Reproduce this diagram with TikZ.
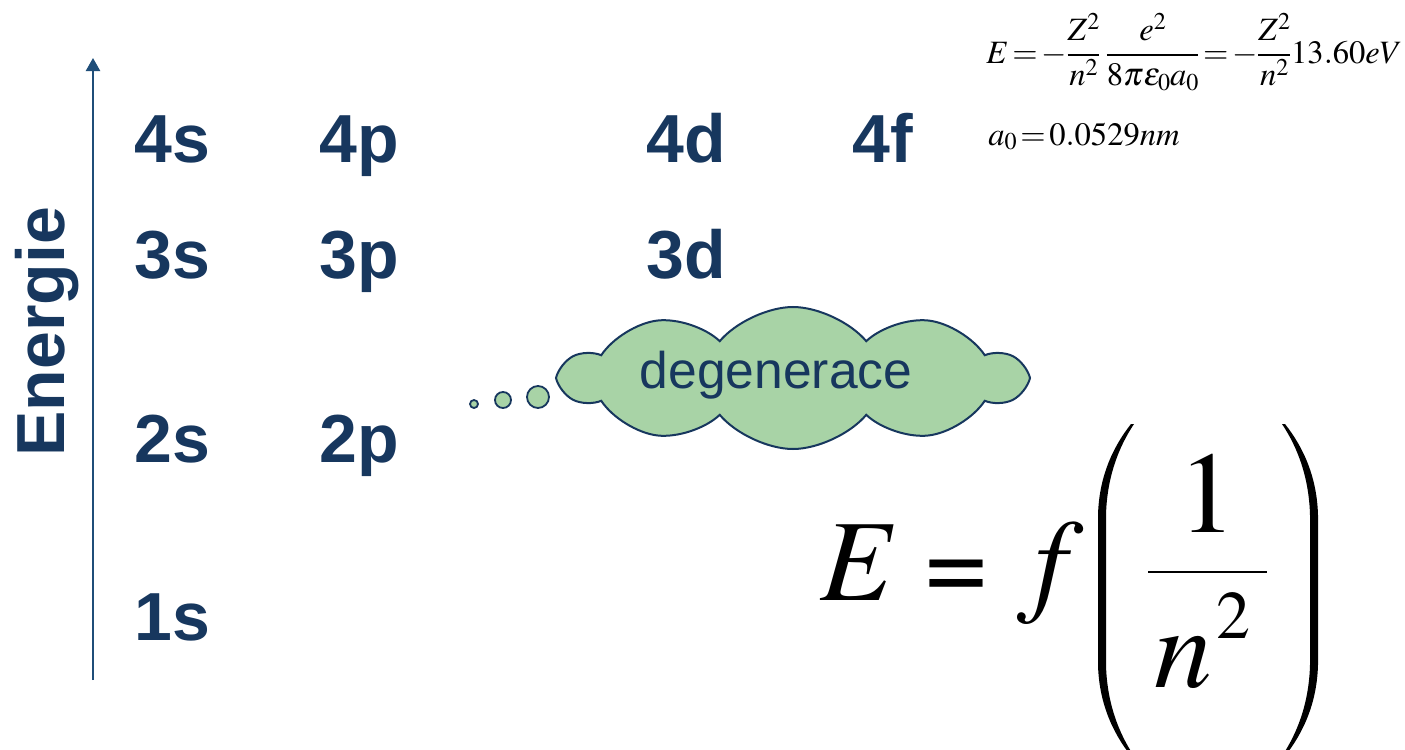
\documentclass[tikz,border=0pt]{standalone}
\usepackage{amsmath}
\usepackage{mathptmx}
\usepackage[no-math]{fontspec}
\newfontfamily\lsans{Liberation Sans}
\newfontfamily\lserif{Liberation Serif}
\usetikzlibrary{arrows.meta,shapes.symbols}
\definecolor{orbblue}{RGB}{23,55,94}
\definecolor{arrowblue}{RGB}{31,78,121}
\definecolor{cloudgreen}{RGB}{168,211,166}
\newcommand{\tightmath}{\thickmuskip=2mu\relax\nulldelimiterspace=0.5pt\relax\scriptspace=0pt\relax}
\begin{document}
\begin{tikzpicture}[x=0.5pt,y=-0.5pt,
  orb/.style={font=\lsans\bfseries\fontsize{34}{40}\selectfont, text=orbblue, anchor=base west, inner sep=0pt},
  bubble/.style={circle, draw=orbblue, fill=cloudgreen, line width=0.9pt, inner sep=0pt},
  smallmath/.style={font=\fontsize{16.3}{20}\selectfont, anchor=base west, inner sep=0pt},
  bigmath/.style={font=\fontsize{58}{62}\selectfont, inner sep=0pt},
  paren/.style={fill=black, draw=none}]
\useasboundingbox (0,0) rectangle (1405,750);
\clip (0,0) rectangle (1405,750);

% energy axis
\coordinate (abot) at (93,680);
\coordinate (atop) at (93,58);
\draw[-{Triangle[width=7pt,length=6.5pt]}, arrowblue, line width=1.25pt] (abot) -- (atop);
\node[rotate=90, anchor=base west, inner sep=0pt, text=orbblue,
      font=\lsans\bfseries\fontsize{34}{38}\selectfont] (energie) at (64,457) {Energie};

% orbitals
\node[orb] (s4) at (134,162) {4s};
\node[orb] (p4) at (319,162) {4p};
\node[orb] (d4) at (646,162) {4d};
\node[orb] (f4) at (852,162) {4f};
\node[orb] (s3) at (134,278) {3s};
\node[orb] (p3) at (319,278) {3p};
\node[orb] (d3) at (646,278) {3d};
\node[orb] (s2) at (134,462) {2s};
\node[orb] (p2) at (319,462) {2p};
\node[orb] (s1) at (134,640) {1s};

% thought cloud
\node[cloud, cloud puffs=10, cloud puff arc=100, cloud ignores aspect,
      minimum width=231pt, minimum height=71pt, draw=orbblue, fill=cloudgreen,
      line width=1pt, inner sep=0pt] (cl) at (793,378) {};
\node[font=\lsans\fontsize{25.8}{30}\selectfont, text=orbblue, anchor=base, inner sep=0pt]
      (deg) at (776,388) {degenerace};
\node[bubble, minimum size=4pt] (b1) at (474,404) {};
\node[bubble, minimum size=8pt] (b2) at (503,400) {};
\node[bubble, minimum size=11pt] (b3) at (538,397) {};

% small formulas
\node[smallmath] (form1) at (986,63)
  {\tightmath$E=-\dfrac{Z^2}{n^2}\mkern3mu\dfrac{e^2}{8\pi\varepsilon_0 a_0}=-\dfrac{Z^2}{n^2}13.60eV$};
\node[smallmath] (form2) at (988,145) {\tightmath$a_0=0.0529nm$};

% big formula
\node[bigmath, anchor=base west] (bE) at (820,600) {$E$};
\node[anchor=north, inner sep=0pt, yscale=0.68, font=\lsans\bfseries\fontsize{53}{56}\selectfont] (beq) at (956.5,560) {=};
\node[bigmath, anchor=base] (bf) at (1050,600) {$f$};
\node[bigmath, anchor=base] (bone) at (1207.5,532) {$1$};
\node[bigmath, anchor=base west] (bn) at (1154,687) {$n$};
\node[font=\fontsize{34}{38}\selectfont, anchor=base west, inner sep=0pt] (btwo) at (1216,638) {$2$};
\coordinate (fl) at (1148,572);
\coordinate (fr) at (1267,572);
\draw[line width=1.3pt] (fl) -- (fr);

% parentheses
\path[paren] (1131,424) .. controls (1112,448) and (1099,478) .. (1098,515)
  -- (1098,665) .. controls (1099,702) and (1112,732) .. (1131,756)
  -- (1134,756) .. controls (1118,732) and (1107,702) .. (1106,665)
  -- (1106,515) .. controls (1107,478) and (1118,448) .. (1134,424) -- cycle;
\path[paren] (1285,424) .. controls (1304,448) and (1317,478) .. (1318,515)
  -- (1318,665) .. controls (1317,702) and (1304,732) .. (1285,756)
  -- (1282,756) .. controls (1298,732) and (1309,702) .. (1310,665)
  -- (1310,515) .. controls (1309,478) and (1298,448) .. (1282,424) -- cycle;
\end{tikzpicture}
\end{document}
